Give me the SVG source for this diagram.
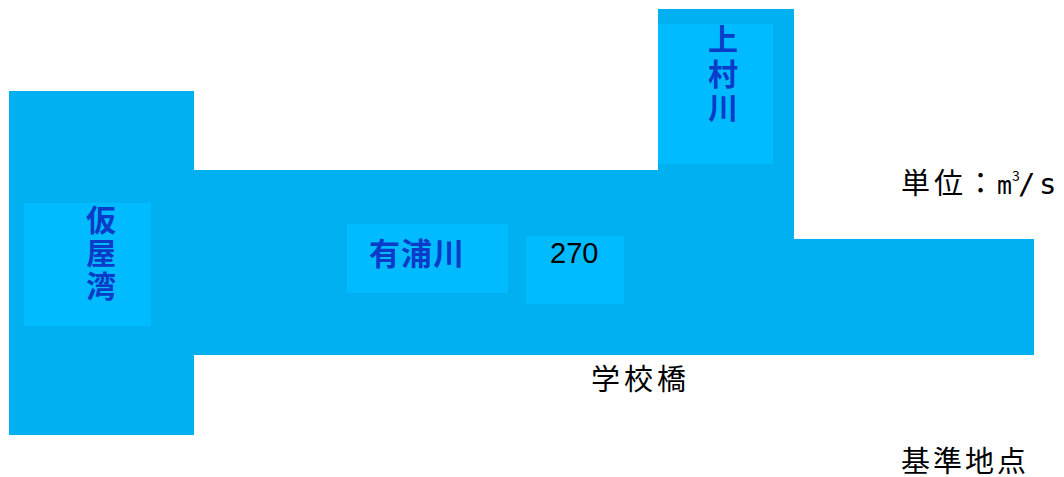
<svg xmlns="http://www.w3.org/2000/svg" width="1064" height="477" viewBox="0 0 1064 477">
<style>
.water{fill:#00B0F0}
.box{fill:#00BBFF}
.lbl{font-family:"Noto Sans CJK JP","Noto Sans",sans-serif;font-weight:bold;fill:#0B3BC9;text-anchor:middle}
.txt{font-family:"Noto Sans CJK JP","Noto Sans",sans-serif;fill:#000}
.num{font-family:"Liberation Sans",Arial,sans-serif;fill:#000}
.mono{font-family:"DejaVu Sans Mono",monospace}
</style>
<g id="river">
<rect class="water" x="9" y="91" width="185" height="344"/>
<rect class="water" x="193" y="170" width="601" height="185"/>
<rect class="water" x="658" y="9" width="136" height="230"/>
<rect class="water" x="793" y="239" width="241" height="116"/>
</g>
<g id="kariya">
<rect class="box" x="24" y="203" width="127" height="123"/>
<text class="lbl" font-size="30"><tspan x="101" y="231">仮</tspan><tspan x="101" y="264">屋</tspan><tspan x="101" y="297">湾</tspan></text>
</g>
<g id="ariura">
<rect class="box" x="347" y="224" width="161" height="69"/>
<text class="lbl" x="417" y="265" font-size="31" letter-spacing="1">有浦川</text>
</g>
<g id="flow">
<rect class="box" x="526" y="236" width="98" height="68"/>
<text class="num" x="550" y="263" font-size="29">270</text>
</g>
<g id="kamimura">
<rect class="box" x="658" y="24" width="115" height="140"/>
<text class="lbl" font-size="30"><tspan x="723" y="50">上</tspan><tspan x="723" y="85">村</tspan><tspan x="723" y="119">川</tspan></text>
</g>
<g id="labels">
<text class="txt" font-size="29"><tspan x="901" y="194">単</tspan><tspan x="934" y="194">位</tspan><tspan x="966" y="194">：</tspan><tspan class="mono" x="997" y="194" font-size="24" textLength="15" lengthAdjust="spacingAndGlyphs">m</tspan><tspan x="1012" y="181" font-size="14">3</tspan><tspan class="mono" x="1018" y="194" font-size="29">/</tspan><tspan class="mono" x="1039" y="194" font-size="29">s</tspan></text>
<text class="txt" x="591" y="390" font-size="29" letter-spacing="4">学校橋</text>
<text class="txt" font-size="29"><tspan x="901" y="472">基</tspan><tspan x="933" y="472">準</tspan><tspan x="965" y="472">地</tspan><tspan x="997" y="472">点</tspan></text>
</g>
<g id="connectors"></g>
</svg>
